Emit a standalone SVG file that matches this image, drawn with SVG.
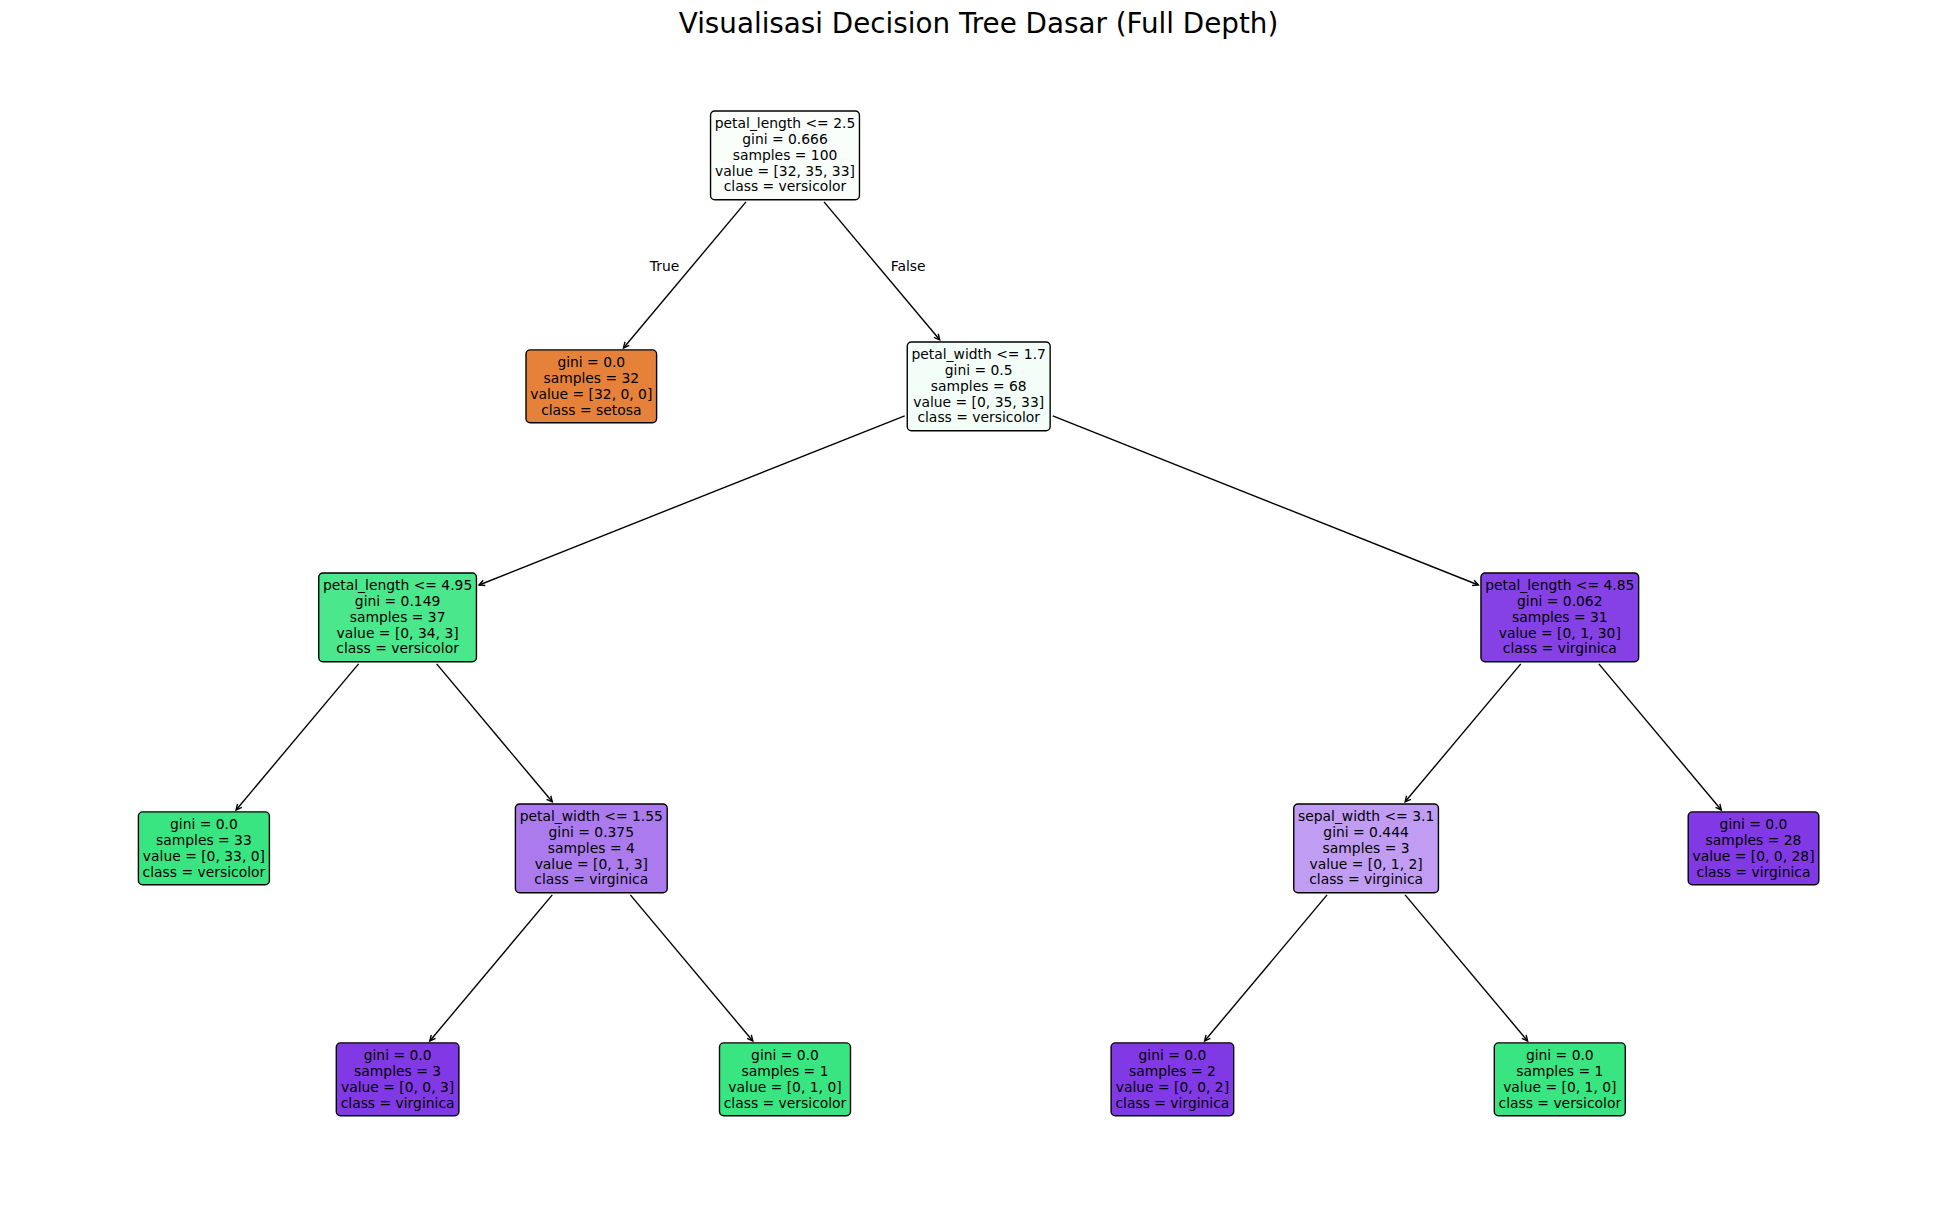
<svg xmlns="http://www.w3.org/2000/svg" width="1957" height="1205" viewBox="0 0 1957 1205">
<defs>
<style>
.box{stroke:#000;stroke-width:1.39}
.t{font-family:"DejaVu Sans","Liberation Sans",sans-serif;font-size:13.89px;fill:#000;text-anchor:middle}
.lbl{font-family:"DejaVu Sans","Liberation Sans",sans-serif;font-size:13.89px;fill:#000}
.title{font-family:"DejaVu Sans","Liberation Sans",sans-serif;font-size:27.78px;fill:#000;text-anchor:middle}
.edge{stroke:#000;stroke-width:1.39;fill:none;marker-end:url(#ah)}
</style>
<marker id="ah" markerUnits="userSpaceOnUse" markerWidth="14" markerHeight="14" refX="0" refY="0" viewBox="-8 -7 14 14" orient="auto" overflow="visible">
<path d="M-5.6,-2.8 L0,0 L-5.6,2.8" fill="none" stroke="#000" stroke-width="1.39"/>
</marker>
</defs>
<rect x="0" y="0" width="1957" height="1205" fill="#fff"/>
<text class="title" x="978.5" y="33">Visualisasi Decision Tree Dasar (Full Depth)</text>

<g id="connectors">
<line class="edge" x1="745.98" y1="201.88" x2="623.49" y2="347.97"/>
<line class="edge" x1="824.02" y1="201.88" x2="939.68" y2="339.82"/>
<line class="edge" x1="904.67" y1="415.78" x2="479.03" y2="584.98"/>
<line class="edge" x1="1052.73" y1="415.78" x2="1478.37" y2="584.98"/>
<line class="edge" x1="358.58" y1="663.88" x2="236.09" y2="809.97"/>
<line class="edge" x1="436.62" y1="663.88" x2="552.28" y2="801.82"/>
<line class="edge" x1="1520.78" y1="663.88" x2="1405.12" y2="801.82"/>
<line class="edge" x1="1598.82" y1="663.88" x2="1721.31" y2="809.97"/>
<line class="edge" x1="552.28" y1="894.88" x2="429.79" y2="1040.97"/>
<line class="edge" x1="630.32" y1="894.88" x2="752.81" y2="1040.97"/>
<line class="edge" x1="1327.08" y1="894.88" x2="1204.59" y2="1040.97"/>
<line class="edge" x1="1405.12" y1="894.88" x2="1527.61" y2="1040.97"/>
<text class="lbl" x="679.3" y="270.85" text-anchor="end">True</text>
<text class="lbl" x="890.7" y="270.85">False</text>
</g>

<g id="node0">
<rect class="box" x="710.55" y="110.95" width="148.9" height="88.8" rx="4.2" fill="#f9fefb"/>
<text class="t"><tspan x="785" y="127.85">petal_length &lt;= 2.5</tspan><tspan x="785" y="143.75">gini = 0.666</tspan><tspan x="785" y="159.65">samples = 100</tspan><tspan x="785" y="175.55">value = [32, 35, 33]</tspan><tspan x="785" y="191.45">class = versicolor</tspan></text>
</g>
<g id="node1">
<rect class="box" x="526" y="349.9" width="130.6" height="72.9" rx="4.2" fill="#e58139"/>
<text class="t"><tspan x="591.3" y="366.8">gini = 0.0</tspan><tspan x="591.3" y="382.7">samples = 32</tspan><tspan x="591.3" y="398.6">value = [32, 0, 0]</tspan><tspan x="591.3" y="414.5">class = setosa</tspan></text>
</g>
<g id="node2">
<rect class="box" x="907.25" y="341.95" width="142.9" height="88.8" rx="4.2" fill="#f4fef8"/>
<text class="t"><tspan x="978.7" y="358.85">petal_width &lt;= 1.7</tspan><tspan x="978.7" y="374.75">gini = 0.5</tspan><tspan x="978.7" y="390.65">samples = 68</tspan><tspan x="978.7" y="406.55">value = [0, 35, 33]</tspan><tspan x="978.7" y="422.45">class = versicolor</tspan></text>
</g>
<g id="node3">
<rect class="box" x="318.75" y="572.95" width="157.7" height="88.8" rx="4.2" fill="#4ae78c"/>
<text class="t"><tspan x="397.6" y="589.85">petal_length &lt;= 4.95</tspan><tspan x="397.6" y="605.75">gini = 0.149</tspan><tspan x="397.6" y="621.65">samples = 37</tspan><tspan x="397.6" y="637.55">value = [0, 34, 3]</tspan><tspan x="397.6" y="653.45">class = versicolor</tspan></text>
</g>
<g id="node4">
<rect class="box" x="1480.95" y="572.95" width="157.7" height="88.8" rx="4.2" fill="#8540e6"/>
<text class="t"><tspan x="1559.8" y="589.85">petal_length &lt;= 4.85</tspan><tspan x="1559.8" y="605.75">gini = 0.062</tspan><tspan x="1559.8" y="621.65">samples = 31</tspan><tspan x="1559.8" y="637.55">value = [0, 1, 30]</tspan><tspan x="1559.8" y="653.45">class = virginica</tspan></text>
</g>
<g id="node5">
<rect class="box" x="138.4" y="811.9" width="131" height="72.9" rx="4.2" fill="#39e581"/>
<text class="t"><tspan x="203.9" y="828.8">gini = 0.0</tspan><tspan x="203.9" y="844.7">samples = 33</tspan><tspan x="203.9" y="860.6">value = [0, 33, 0]</tspan><tspan x="203.9" y="876.5">class = versicolor</tspan></text>
</g>
<g id="node6">
<rect class="box" x="515.4" y="803.95" width="151.8" height="88.8" rx="4.2" fill="#ab7bee"/>
<text class="t"><tspan x="591.3" y="820.85">petal_width &lt;= 1.55</tspan><tspan x="591.3" y="836.75">gini = 0.375</tspan><tspan x="591.3" y="852.65">samples = 4</tspan><tspan x="591.3" y="868.55">value = [0, 1, 3]</tspan><tspan x="591.3" y="884.45">class = virginica</tspan></text>
</g>
<g id="node7">
<rect class="box" x="1293.75" y="803.95" width="144.7" height="88.8" rx="4.2" fill="#c09cf2"/>
<text class="t"><tspan x="1366.1" y="820.85">sepal_width &lt;= 3.1</tspan><tspan x="1366.1" y="836.75">gini = 0.444</tspan><tspan x="1366.1" y="852.65">samples = 3</tspan><tspan x="1366.1" y="868.55">value = [0, 1, 2]</tspan><tspan x="1366.1" y="884.45">class = virginica</tspan></text>
</g>
<g id="node8">
<rect class="box" x="1688.2" y="811.9" width="130.6" height="72.9" rx="4.2" fill="#8139e5"/>
<text class="t"><tspan x="1753.5" y="828.8">gini = 0.0</tspan><tspan x="1753.5" y="844.7">samples = 28</tspan><tspan x="1753.5" y="860.6">value = [0, 0, 28]</tspan><tspan x="1753.5" y="876.5">class = virginica</tspan></text>
</g>
<g id="node9">
<rect class="box" x="336.3" y="1042.9" width="122.6" height="72.9" rx="4.2" fill="#8139e5"/>
<text class="t"><tspan x="397.6" y="1059.8">gini = 0.0</tspan><tspan x="397.6" y="1075.7">samples = 3</tspan><tspan x="397.6" y="1091.6">value = [0, 0, 3]</tspan><tspan x="397.6" y="1107.5">class = virginica</tspan></text>
</g>
<g id="node10">
<rect class="box" x="719.5" y="1042.9" width="131" height="72.9" rx="4.2" fill="#39e581"/>
<text class="t"><tspan x="785" y="1059.8">gini = 0.0</tspan><tspan x="785" y="1075.7">samples = 1</tspan><tspan x="785" y="1091.6">value = [0, 1, 0]</tspan><tspan x="785" y="1107.5">class = versicolor</tspan></text>
</g>
<g id="node11">
<rect class="box" x="1111.1" y="1042.9" width="122.6" height="72.9" rx="4.2" fill="#8139e5"/>
<text class="t"><tspan x="1172.4" y="1059.8">gini = 0.0</tspan><tspan x="1172.4" y="1075.7">samples = 2</tspan><tspan x="1172.4" y="1091.6">value = [0, 0, 2]</tspan><tspan x="1172.4" y="1107.5">class = virginica</tspan></text>
</g>
<g id="node12">
<rect class="box" x="1494.3" y="1042.9" width="131" height="72.9" rx="4.2" fill="#39e581"/>
<text class="t"><tspan x="1559.8" y="1059.8">gini = 0.0</tspan><tspan x="1559.8" y="1075.7">samples = 1</tspan><tspan x="1559.8" y="1091.6">value = [0, 1, 0]</tspan><tspan x="1559.8" y="1107.5">class = versicolor</tspan></text>
</g>
</svg>
